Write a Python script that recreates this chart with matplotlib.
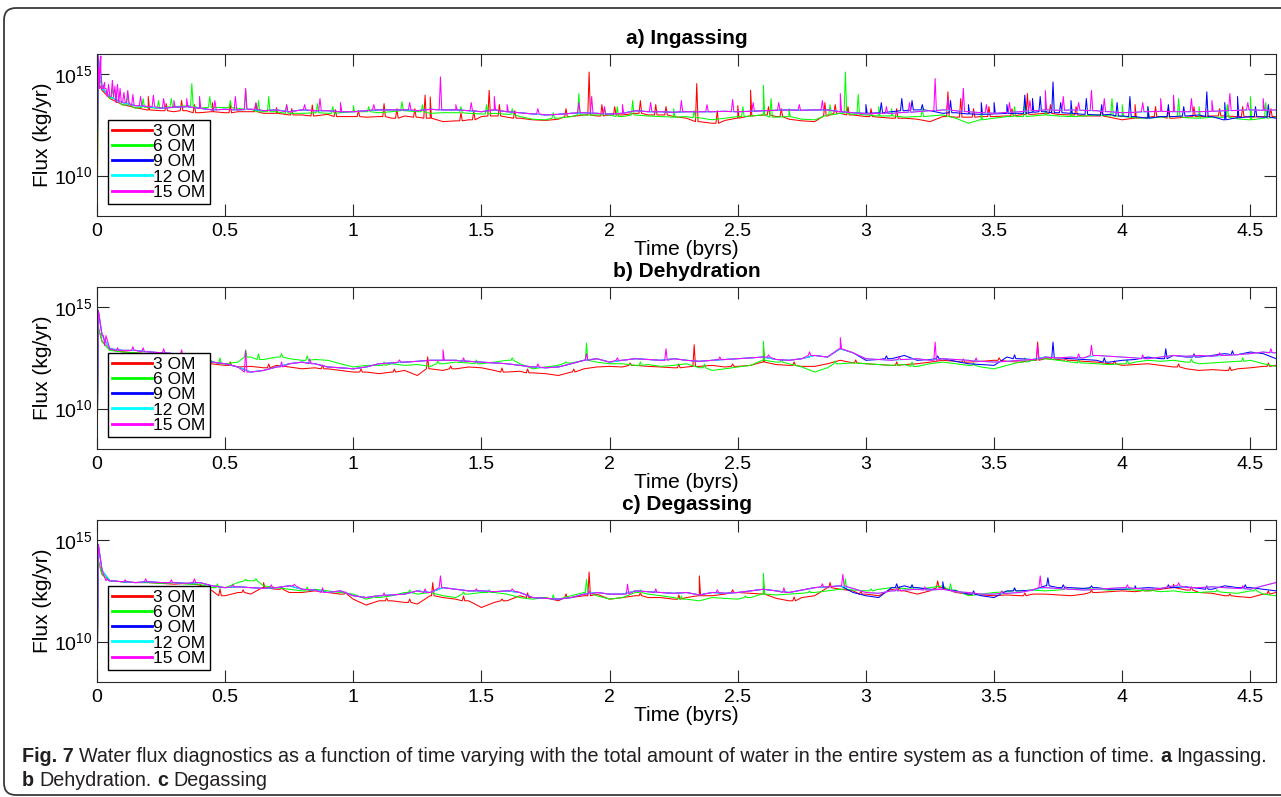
import matplotlib
matplotlib.use('Agg')
import matplotlib.pyplot as plt
import numpy as np
from matplotlib.patches import FancyBboxPatch
from matplotlib.transforms import IdentityTransform
from matplotlib.ticker import NullLocator

plt.rcParams['font.family'] = ['Liberation Sans', 'DejaVu Sans']
plt.rcParams['mathtext.fontset'] = 'custom'
plt.rcParams['mathtext.rm'] = 'Liberation Sans'

# time grid (byrs)
time = [0.0, 0.005, 0.02,
        0.05, 0.1, 0.15, 0.2, 0.25, 0.3, 0.35, 0.4, 0.45, 0.5,
        0.55, 0.6, 0.65, 0.7, 0.75, 0.8, 0.85, 0.9, 0.95, 1.0,
        1.05, 1.1, 1.15, 1.2, 1.25, 1.3, 1.35, 1.4, 1.45, 1.5,
        1.55, 1.6, 1.65, 1.7, 1.75, 1.8, 1.85, 1.9, 1.95, 2.0,
        2.05, 2.1, 2.15, 2.2, 2.25, 2.3, 2.35, 2.4, 2.45, 2.5,
        2.55, 2.6, 2.65, 2.7, 2.75, 2.8, 2.85, 2.9, 2.95, 3.0,
        3.05, 3.1, 3.15, 3.2, 3.25, 3.3, 3.35, 3.4, 3.45, 3.5,
        3.55, 3.6, 3.65, 3.7, 3.75, 3.8, 3.85, 3.9, 3.95, 4.0,
        4.05, 4.1, 4.15, 4.2, 4.25, 4.3, 4.35, 4.4, 4.45, 4.5,
        4.55, 4.6]

# ---- a) Ingassing, log10(flux in kg/yr)
ing_15 = [9.5, 15.9, 14.3,
          13.9, 13.6, 13.45, 13.40, 13.32, 13.37, 13.40, 13.32, 13.24, 13.27,
          13.24, 13.27, 13.20, 13.24, 13.15, 13.24, 13.20, 13.20, 13.15, 13.15,
          13.20, 13.24, 13.24, 13.24, 13.20, 13.27, 13.24, 13.24, 13.20, 13.15,
          13.24, 13.15, 13.10, 13.04, 12.99, 13.02, 13.07, 13.10, 13.07, 13.04,
          13.07, 13.20, 13.15, 13.15, 13.12, 13.15, 13.15, 13.15, 13.17, 13.15,
          13.17, 13.20, 13.22, 13.24, 13.22, 13.24, 13.24, 13.15, 13.10, 13.04,
          13.07, 13.07, 13.12, 13.15, 13.20, 13.24, 13.20, 13.15, 13.10, 13.07,
          13.12, 13.15, 13.20, 13.24, 13.22, 13.24, 13.22, 13.20, 13.15, 13.10,
          13.12, 13.15, 13.17, 13.15, 13.15, 13.15, 13.17, 13.20, 13.22, 13.24,
          13.22, 13.24]
ing_6 = [7.0, 14.9, 14.4,
         13.8, 13.48, 13.32, 13.37, 13.32, 13.40, 13.44, 13.32, 13.37, 13.35,
         13.32, 13.27, 13.15, 13.15, 13.07, 13.07, 13.10, 13.07, 13.10, 13.15,
         13.15, 13.10, 13.15, 13.20, 13.15, 13.07, 13.10, 13.10, 13.07, 13.04,
         13.07, 13.02, 12.91, 12.78, 12.75, 12.83, 12.91, 12.99, 12.99, 12.99,
         12.91, 12.99, 12.94, 12.91, 12.88, 12.91, 12.85, 12.75, 12.83, 12.91,
         12.94, 12.99, 12.88, 12.91, 12.78, 12.75, 12.99, 13.07, 13.02, 12.99,
         12.94, 12.94, 12.88, 12.91, 12.94, 12.99, 12.83, 12.58, 12.75, 12.83,
         12.91, 12.91, 12.94, 12.99, 12.94, 12.91, 12.94, 12.99, 12.94, 12.91,
         12.85, 12.83, 12.88, 12.91, 12.85, 12.83, 12.88, 12.88, 12.80, 12.75,
         12.83, 12.88]
ing_3 = [7.0, 14.6, 14.2,
         13.8, 13.5, 13.35, 13.24, 13.20, 13.15, 13.20, 13.10, 13.15, 13.10,
         13.15, 13.15, 13.07, 13.07, 12.99, 12.99, 12.94, 13.02, 12.91, 12.91,
         12.88, 12.91, 12.83, 12.94, 12.88, 12.83, 12.66, 12.70, 12.75, 12.91,
         12.94, 12.88, 12.83, 12.75, 12.72, 12.78, 12.91, 12.99, 12.94, 12.99,
         12.99, 13.07, 12.99, 12.99, 12.91, 12.83, 12.66, 12.58, 12.72, 12.83,
         12.94, 12.99, 12.91, 12.78, 12.70, 12.66, 12.94, 13.07, 12.99, 12.91,
         12.88, 12.83, 12.83, 12.78, 12.66, 12.91, 12.88, 12.88, 12.91, 12.91,
         12.94, 12.99, 13.02, 13.07, 13.02, 12.99, 12.94, 12.94, 12.88, 12.75,
         12.83, 12.88, 12.91, 12.83, 12.88, 12.91, 12.94, 12.94, 12.91, 12.88,
         12.91, 12.91]
# 9 OM only separates from 15 OM after ~2.9 byrs
ing_9_late = [13.10, 13.07,
              13.10, 13.15, 13.20, 13.24, 13.20, 13.07, 13.10, 13.04, 13.02, 13.04,
              13.07, 13.07, 13.12, 13.15, 13.10, 13.07, 13.02, 12.99, 13.02, 12.94,
              12.91, 12.83, 12.91, 12.91, 12.94, 12.99, 12.91, 12.75, 12.85, 12.91,
              12.88, 12.83]
ing_spikes_3 = [(0.20, 13.9), (0.27, 13.55), (0.33, 13.7), (0.38, 13.5), (0.45, 13.6),
                (0.52, 13.5), (0.62, 13.55), (0.70, 13.35), (0.76, 13.3), (0.84, 13.48),
                (0.93, 13.25), (1.02, 13.2), (1.12, 13.55), (1.17, 13.3), (1.24, 13.3),
                (1.28, 13.97), (1.30, 13.88), (1.42, 13.1), (1.47, 13.2), (1.53, 14.21),
                (1.57, 13.5), (1.63, 13.2), (1.83, 13.3), (1.92, 15.11), (1.97, 13.5),
                (2.02, 13.4), (2.12, 13.7), (2.18, 13.5), (2.22, 13.4), (2.34, 14.54),
                (2.42, 13.2), (2.50, 13.45), (2.55, 14.21), (2.62, 13.4), (2.67, 13.3),
                (2.84, 13.6), (2.88, 13.5), (2.93, 13.4), (3.02, 13.3), (3.12, 13.3),
                (3.32, 14.13), (3.37, 13.8), (3.42, 13.3), (3.48, 13.4), (3.57, 13.3),
                (3.63, 14.05), (3.72, 13.5), (3.82, 13.4), (3.92, 13.3), (4.05, 13.5),
                (4.13, 13.4), (4.18, 13.3), (4.28, 13.4), (4.38, 13.3), (4.47, 13.4),
                (4.58, 13.3)]
ing_spikes_6 = [(0.06, 14.3), (0.12, 14.0), (0.18, 13.8), (0.24, 13.7), (0.29, 13.8),
                (0.37, 14.54), (0.44, 13.9), (0.52, 13.7), (0.58, 14.21), (0.63, 13.7),
                (0.67, 13.9), (0.74, 13.5), (0.86, 13.55), (0.92, 13.4), (1.00, 13.45),
                (1.06, 13.4), (1.19, 13.65), (1.27, 13.5), (1.42, 13.4), (1.52, 13.5),
                (1.62, 13.3), (1.78, 13.1), (1.88, 14.05), (1.98, 13.3), (2.03, 13.4),
                (2.09, 13.7), (2.25, 13.3), (2.33, 13.2), (2.52, 13.4), (2.60, 14.46),
                (2.63, 13.8), (2.70, 13.3), (2.86, 13.5), (2.92, 15.11), (2.97, 14.0),
                (3.05, 13.4), (3.10, 13.3), (3.22, 13.3), (3.45, 13.2), (3.58, 13.4),
                (3.62, 13.7), (3.70, 13.5), (3.80, 13.4), (3.96, 13.8), (4.00, 13.5),
                (4.10, 13.4), (4.22, 13.8), (4.30, 13.4), (4.41, 13.5), (4.50, 13.9),
                (4.56, 13.6)]
ing_spikes_15 = [(0.01, 14.9), (0.015, 15.2), (0.025, 14.4), (0.03, 14.6), (0.045, 14.5),
                 (0.06, 14.7), (0.07, 14.4), (0.08, 14.5), (0.09, 14.3), (0.105, 14.1),
                 (0.12, 14.2), (0.14, 14.0), (0.17, 13.9), (0.22, 13.97), (0.26, 13.8),
                 (0.30, 13.7), (0.35, 13.8), (0.40, 13.9), (0.46, 13.7), (0.54, 13.9),
                 (0.58, 14.30), (0.62, 13.6), (0.74, 13.5), (0.81, 13.5), (0.87, 13.8),
                 (0.95, 13.6), (1.08, 13.5), (1.22, 13.6), (1.34, 14.87), (1.40, 13.5),
                 (1.46, 13.6), (1.55, 13.9), (1.60, 13.5), (1.72, 13.3), (1.88, 13.6),
                 (1.93, 13.9), (1.98, 13.4), (2.05, 13.5), (2.16, 13.6), (2.28, 13.7),
                 (2.38, 13.5), (2.48, 13.75), (2.56, 13.6), (2.66, 13.6), (2.74, 13.5),
                 (2.83, 13.7), (2.90, 14.05), (3.08, 13.4), (3.17, 13.6), (3.27, 14.79),
                 (3.32, 13.8), (3.38, 14.3), (3.47, 13.5), (3.56, 13.6), (3.64, 13.7),
                 (3.70, 14.2), (3.77, 13.9), (3.83, 13.6), (3.88, 14.2), (3.93, 13.8),
                 (4.08, 13.6), (4.15, 13.8), (4.20, 13.97), (4.27, 13.8), (4.35, 13.7),
                 (4.42, 14.05), (4.49, 13.6), (4.55, 13.8)]
ing_spikes_9 = [(3.00, 13.5), (3.06, 13.6), (3.14, 13.8), (3.18, 13.7), (3.22, 13.5),
                (3.33, 13.7), (3.40, 13.5), (3.45, 13.6), (3.50, 13.6), (3.55, 13.5),
                (3.62, 13.97), (3.65, 13.8), (3.68, 13.9), (3.73, 14.62), (3.76, 13.6),
                (3.80, 13.7), (3.86, 13.8), (3.92, 13.5), (3.98, 13.6), (4.03, 13.9),
                (4.10, 13.4), (4.18, 13.5), (4.24, 13.4), (4.33, 14.13), (4.40, 13.6),
                (4.45, 13.9), (4.52, 13.4), (4.57, 13.5)]

# ---- b) Dehydration
deh_15 = [7.0, 14.85, 13.6,
          12.95, 12.87, 12.87, 12.80, 12.75, 12.71, 12.62, 12.54, 12.29, 12.21,
          12.05, 11.80, 11.88, 12.05, 12.21, 12.29, 12.21, 12.05, 12.01, 11.96,
          12.05, 12.21, 12.25, 12.29, 12.33, 12.38, 12.38, 12.38, 12.33, 12.29,
          12.25, 12.21, 12.13, 12.05, 12.01, 12.05, 12.21, 12.38, 12.46, 12.29,
          12.38, 12.46, 12.42, 12.38, 12.46, 12.38, 12.33, 12.38, 12.42, 12.46,
          12.50, 12.54, 12.42, 12.38, 12.46, 12.62, 12.54, 12.95, 12.75, 12.46,
          12.42, 12.38, 12.42, 12.46, 12.38, 12.46, 12.42, 12.38, 12.33, 12.29,
          12.33, 12.38, 12.42, 12.54, 12.50, 12.54, 12.50, 12.62, 12.58, 12.54,
          12.50, 12.46, 12.54, 12.62, 12.58, 12.62, 12.58, 12.62, 12.66, 12.71,
          12.79, 12.75]
deh_6 = [7.0, 14.0, 13.3,
         12.87, 12.79, 12.75, 12.71, 12.62, 12.62, 12.54, 12.71, 12.33, 12.21,
         12.29, 12.54, 12.42, 12.54, 12.46, 12.38, 12.42, 12.38, 12.21, 12.05,
         12.13, 12.13, 12.21, 12.13, 12.17, 12.08, 12.21, 12.29, 12.25, 12.21,
         12.29, 12.38, 12.21, 11.96, 12.05, 12.13, 12.25, 12.38, 12.29, 12.21,
         12.21, 12.13, 12.17, 12.08, 12.13, 12.21, 12.01, 11.88, 11.96, 12.05,
         12.13, 12.38, 12.29, 12.21, 12.05, 11.80, 12.01, 12.21, 12.25, 12.21,
         12.17, 12.13, 12.17, 12.08, 12.21, 12.29, 12.21, 12.13, 12.05, 11.96,
         12.13, 12.29, 12.38, 12.46, 12.38, 12.29, 12.25, 12.21, 12.17, 12.21,
         12.29, 12.38, 12.33, 12.38, 12.29, 12.21, 12.25, 12.29, 12.33, 12.38,
         12.21, 12.08]
deh_3 = [7.0, 14.0, 13.3,
         12.9, 12.8, 12.75, 12.7, 12.6, 12.55, 12.5, 12.4, 12.2, 12.13,
         12.05, 12.08, 12.01, 12.13, 12.05, 11.96, 12.01, 11.96, 11.88, 11.80,
         11.80, 11.72, 11.80, 11.88, 11.63, 11.96, 11.88, 11.96, 12.05, 12.01,
         11.88, 11.80, 11.84, 11.76, 11.72, 11.63, 11.80, 11.96, 12.05, 12.08,
         12.05, 12.13, 12.08, 12.05, 12.01, 12.05, 12.08, 12.13, 12.05, 12.08,
         12.13, 12.29, 12.17, 12.13, 12.08, 12.08, 12.21, 12.38, 12.25, 12.21,
         12.17, 12.13, 12.17, 12.21, 12.29, 12.38, 12.33, 12.29, 12.33, 12.38,
         12.33, 12.29, 12.38, 12.46, 12.42, 12.38, 12.33, 12.29, 12.21, 12.13,
         12.17, 12.21, 12.13, 12.05, 11.96, 11.88, 11.92, 11.88, 11.96, 12.01,
         12.08, 12.13]
deh_9_late = [12.75, 12.38,
              12.42, 12.46, 12.62, 12.38, 12.42, 12.46, 12.33, 12.21, 12.17, 12.13,
              12.54, 12.46, 12.42, 12.54, 12.50, 12.46, 12.42, 12.38, 12.29, 12.38,
              12.42, 12.54, 12.46, 12.62, 12.54, 12.54, 12.62, 12.71, 12.66, 12.79,
              12.71, 12.46]
deh_spikes_3 = [(0.52, 12.3), (0.67, 12.2), (0.88, 12.15), (1.03, 11.95), (1.16, 11.95),
                (1.29, 12.55), (1.38, 12.1), (1.58, 12.0), (1.68, 11.95), (1.86, 11.95),
                (2.08, 12.25), (2.27, 12.2), (2.33, 13.15), (2.48, 12.2), (2.60, 13.00),
                (2.72, 12.3), (2.96, 12.4), (3.12, 12.3), (3.38, 12.45), (3.52, 12.5),
                (3.67, 13.28), (3.78, 12.5), (3.97, 12.35), (4.22, 12.2), (4.42, 12.05),
                (4.57, 12.25)]
deh_spikes_6 = [(0.48, 12.5), (0.58, 12.9), (0.63, 12.7), (0.72, 12.7), (0.82, 12.6),
                (1.12, 12.3), (1.33, 12.35), (1.48, 12.4), (1.62, 12.5), (1.83, 12.3),
                (1.91, 13.23), (2.12, 12.3), (2.37, 12.2), (2.60, 13.32), (2.67, 12.4),
                (2.88, 12.35), (3.18, 12.3), (3.42, 12.25), (3.62, 12.5), (3.83, 12.4),
                (4.02, 12.4), (4.27, 12.45), (4.47, 12.5)]
deh_spikes_15 = [(0.03, 13.1), (0.08, 13.0), (0.14, 13.05), (0.18, 13.0), (0.26, 12.95),
                 (0.33, 12.9), (0.58, 12.85), (0.72, 12.3), (0.83, 12.45), (1.18, 12.4),
                 (1.35, 12.9), (1.43, 12.5), (1.72, 12.2), (1.91, 12.71), (2.03, 12.5),
                 (2.22, 12.95), (2.43, 12.55), (2.62, 12.65), (2.78, 12.8), (2.90, 13.50),
                 (3.13, 12.55), (3.27, 13.28), (3.43, 12.5), (3.67, 13.12), (3.83, 12.7),
                 (3.88, 13.12), (4.08, 12.65), (4.38, 12.75), (4.58, 12.95)]
deh_spikes_9 = [(3.08, 12.6), (3.28, 12.6), (3.58, 12.65), (3.73, 13.28), (3.93, 12.5),
                (4.17, 12.95), (4.28, 12.7), (4.43, 12.85)]

# ---- c) Degassing
deg_15 = [7.0, 14.8, 13.5,
          13.0, 12.95, 12.91, 12.95, 12.91, 12.91, 12.87, 12.91, 12.75, 12.66,
          12.70, 12.66, 12.62, 12.66, 12.75, 12.58, 12.54, 12.42, 12.50, 12.26,
          12.17, 12.26, 12.30, 12.34, 12.50, 12.42, 12.66, 12.58, 12.50, 12.50,
          12.46, 12.50, 12.42, 12.17, 12.13, 12.09, 12.17, 12.34, 12.42, 12.34,
          12.34, 12.50, 12.46, 12.42, 12.38, 12.42, 12.30, 12.42, 12.38, 12.42,
          12.50, 12.58, 12.50, 12.42, 12.54, 12.66, 12.70, 12.75, 12.62, 12.42,
          12.38, 12.50, 12.54, 12.58, 12.54, 12.58, 12.46, 12.42, 12.34, 12.34,
          12.38, 12.42, 12.54, 12.66, 12.62, 12.58, 12.54, 12.58, 12.62, 12.66,
          12.62, 12.58, 12.62, 12.75, 12.66, 12.66, 12.70, 12.66, 12.62, 12.58,
          12.75, 12.91]
deg_6 = [7.0, 14.0, 13.3,
         12.99, 12.95, 12.91, 12.91, 12.87, 12.91, 12.83, 12.83, 12.66, 12.66,
         12.91, 13.00, 12.75, 12.66, 12.58, 12.50, 12.58, 12.50, 12.42, 12.34,
         12.09, 12.17, 12.26, 12.42, 12.34, 12.42, 12.26, 12.17, 12.34, 12.42,
         12.42, 12.34, 12.17, 12.09, 12.17, 12.09, 12.26, 12.42, 12.26, 12.09,
         12.17, 12.42, 12.34, 12.26, 12.17, 12.09, 12.01, 12.17, 12.13, 12.09,
         12.17, 12.34, 12.30, 12.34, 12.38, 12.42, 12.50, 12.58, 12.54, 12.50,
         12.58, 12.66, 12.62, 12.58, 12.66, 12.75, 12.54, 12.26, 12.34, 12.42,
         12.46, 12.50, 12.54, 12.50, 12.54, 12.58, 12.62, 12.58, 12.54, 12.58,
         12.54, 12.50, 12.46, 12.50, 12.42, 12.42, 12.46, 12.42, 12.38, 12.50,
         12.34, 12.26]
deg_3 = [7.0, 14.0, 13.3,
         13.0, 12.95, 12.91, 12.91, 12.87, 12.83, 12.87, 12.79, 12.50, 12.26,
         12.42, 12.34, 12.66, 12.58, 12.42, 12.42, 12.50, 12.42, 12.34, 12.09,
         11.80, 12.01, 12.01, 11.93, 11.85, 12.26, 12.17, 12.09, 12.01, 11.68,
         11.93, 12.01, 12.26, 12.17, 12.17, 12.01, 12.17, 12.26, 12.34, 12.09,
         12.17, 12.26, 12.17, 12.17, 12.09, 12.17, 12.26, 12.26, 12.34, 12.42,
         12.38, 12.34, 12.13, 12.01, 12.17, 12.26, 12.66, 12.58, 12.50, 12.34,
         12.26, 12.58, 12.50, 12.34, 12.50, 12.66, 12.42, 12.34, 12.30, 12.26,
         12.30, 12.26, 12.34, 12.34, 12.30, 12.26, 12.34, 12.42, 12.46, 12.50,
         12.46, 12.50, 12.58, 12.66, 12.54, 12.42, 12.38, 12.26, 12.22, 12.17,
         12.34, 12.42]
deg_9_late = [12.42, 12.26,
              12.17, 12.66, 12.75, 12.66, 12.58, 12.58, 12.50, 12.34, 12.26, 12.17,
              12.50, 12.50, 12.54, 12.75, 12.66, 12.66, 12.62, 12.66, 12.58, 12.58,
              12.62, 12.66, 12.62, 12.66, 12.70, 12.62, 12.58, 12.75, 12.66, 12.66,
              12.58, 12.50]
deg_spikes_3 = [(0.48, 12.6), (0.57, 12.55), (0.65, 12.91), (0.72, 12.7), (0.97, 12.45),
                (1.13, 12.15), (1.22, 12.1), (1.31, 12.91), (1.43, 12.25), (1.58, 12.1),
                (1.68, 12.4), (1.83, 12.35), (1.92, 13.43), (2.12, 12.4), (2.27, 12.3),
                (2.35, 13.24), (2.48, 12.55), (2.60, 12.91), (2.72, 12.2), (2.86, 12.91),
                (2.98, 12.5), (3.13, 12.7), (3.28, 12.99), (3.42, 12.45), (3.62, 12.4),
                (3.88, 12.55), (4.08, 12.6), (4.20, 12.83), (4.27, 12.7), (4.42, 12.35),
                (4.57, 12.5)]
deg_spikes_6 = [(0.47, 12.85), (0.58, 13.07), (0.62, 13.1), (0.82, 12.7), (1.08, 12.25),
                (1.22, 12.55), (1.43, 12.45), (1.53, 12.55), (1.78, 12.3), (1.91, 13.07),
                (2.12, 12.55), (2.28, 12.25), (2.53, 12.25), (2.60, 13.37), (2.78, 12.5),
                (2.92, 13.10), (3.02, 12.6), (3.18, 12.75), (3.33, 12.85), (3.58, 12.6),
                (3.78, 12.7), (4.12, 12.6), (4.37, 12.55), (4.52, 12.6)]
deg_spikes_15 = [(0.04, 13.1), (0.11, 13.05), (0.19, 13.1), (0.29, 13.05), (0.38, 13.1),
                 (0.53, 12.8), (0.68, 12.8), (0.77, 12.83), (0.88, 12.65), (1.12, 12.4),
                 (1.28, 12.6), (1.34, 13.24), (1.48, 12.6), (1.62, 12.6), (1.92, 12.5),
                 (2.07, 12.83), (2.18, 12.6), (2.42, 12.55), (2.68, 12.65), (2.83, 12.85),
                 (2.91, 13.32), (3.12, 12.65), (3.23, 12.7), (3.53, 12.5), (3.68, 13.24),
                 (3.78, 12.7), (4.02, 12.8), (4.22, 12.9), (4.47, 12.75)]
deg_spikes_9 = [(3.12, 12.85), (3.18, 12.8), (3.30, 12.95), (3.42, 12.5), (3.58, 12.65),
                (3.71, 13.15), (3.77, 12.8), (3.88, 12.75), (4.05, 12.75), (4.18, 12.8),
                (4.33, 12.75), (4.48, 12.8)]

labels = ['3 OM', '6 OM', '9 OM', '12 OM', '15 OM']
colors = ['#ff0000', '#00ff00', '#0000ff', '#00ffff', '#ff00ff']
titles = ['a) Ingassing', 'b) Dehydration', 'c) Degassing']
xticks = [0, 0.5, 1, 1.5, 2, 2.5, 3, 3.5, 4, 4.5]
xtick_labels = ['0', '0.5', '1', '1.5', '2', '2.5', '3', '3.5', '4', '4.5']

panels = [
    (ing_3, ing_6, ing_9_late, ing_15,
     [ing_spikes_3, ing_spikes_6, ing_spikes_9, [], ing_spikes_15]),
    (deh_3, deh_6, deh_9_late, deh_15,
     [deh_spikes_3, deh_spikes_6, deh_spikes_9, [], deh_spikes_15]),
    (deg_3, deg_6, deg_9_late, deg_15,
     [deg_spikes_3, deg_spikes_6, deg_spikes_9, [], deg_spikes_15]),
]


def with_spikes(t, v, spikes, w=0.005):
    t = np.asarray(t, dtype=float)
    v = np.asarray(v, dtype=float)
    ts, vs = list(t), list(v)
    for s, peak in spikes:
        base = v[np.argmin(np.abs(t - s))]
        ts += [s - w, s, s + w]
        vs += [base, peak, base]
    order = np.argsort(ts, kind='stable')
    return np.array(ts)[order], np.array(vs)[order]


W, H = 1281, 797
fig = plt.figure(figsize=(W / 100, H / 100), dpi=100)

# axes boxes in pixels: (top, bottom)
boxes = [(54, 216), (287, 449), (520, 682)]
left_px, right_px = 97, 1276

for (top, bot), title, (s3, s6, s9_late, s15, spikes) in zip(boxes, titles, panels):
    ax = fig.add_axes([left_px / W, 1 - bot / H, (right_px - left_px) / W, (bot - top) / H])
    n_early = len(time) - len(s9_late)
    s9 = list(s15[:n_early]) + list(s9_late)
    series = [s3, s6, s9, s15, s15]
    for vals, sp, lab, col in zip(series, spikes, labels, colors):
        t, v = with_spikes(time, vals, sp)
        ax.plot(t, 10.0 ** v, color=col, lw=0.75, label=lab)

    ax.set_yscale('log')
    ax.set_xlim(0, 4.6)
    ax.set_ylim(1e8, 1e16)
    ax.set_xticks(xticks)
    ax.set_xticklabels(xtick_labels)
    ax.set_yticks([1e10, 1e15])
    ax.set_yticklabels([r'$\mathregular{10^{10}}$', r'$\mathregular{10^{15}}$'])
    ax.yaxis.set_minor_locator(NullLocator())
    ax.tick_params(direction='in', length=8.5, width=0.8, color='#262626',
                   labelsize=14, top=True, right=True)
    ax.tick_params(axis='x', pad=5)
    ax.tick_params(axis='y', pad=3)
    for sp_ in ax.spines.values():
        sp_.set_color('#262626')
        sp_.set_linewidth(0.8)

    ax.set_title(title, fontweight='bold', fontsize=15, pad=7)
    ax.set_xlabel('Time (byrs)', fontsize=15, labelpad=0)
    ax.set_ylabel('Flux (kg/yr)', fontsize=15, labelpad=2)

    leg = ax.legend(loc='lower left', bbox_to_anchor=(11 / 1179, 12 / 162),
                    borderaxespad=0, fontsize=12.5, handlelength=2.3,
                    handletextpad=0.05, labelspacing=0.0, borderpad=0.25,
                    fancybox=False, edgecolor='black', framealpha=1)
    leg.get_frame().set_linewidth(1.0)
    for line in leg.get_lines():
        line.set_linewidth(2.0)

# outer rounded frame
frame = FancyBboxPatch((4, 2), 1320, 787, boxstyle='round,pad=0,rounding_size=12',
                       transform=IdentityTransform(), fill=False,
                       edgecolor='#3a3a3a', linewidth=1.3)
fig.add_artist(frame)

# caption with bold run markers
cap_family = ['Liberation Sans']
cap_color = '#231f20'
line1 = [('Fig. 7', True),
         ('Water flux diagnostics as a function of time varying with the total amount of '
          'water in the entire system as a function of time.', False),
         ('a', True), ('Ingassing.', False)]
line2 = [('b', True), ('Dehydration.', False), ('c', True), ('Degassing', False)]

renderer = fig.canvas.get_renderer()


def lay_runs(runs, x0, y, fs):
    arts = []
    probe1 = fig.text(0, 0, 'a a', fontsize=fs, family=cap_family)
    probe2 = fig.text(0, 0, 'aa', fontsize=fs, family=cap_family)
    space = probe1.get_window_extent(renderer).width - probe2.get_window_extent(renderer).width
    probe1.remove()
    probe2.remove()
    x = x0
    for s, bold in runs:
        txt = fig.text(x / W, y, s, fontsize=fs, family=cap_family, color=cap_color,
                       fontweight='bold' if bold else 'normal', ha='left', va='center')
        x += txt.get_window_extent(renderer).width + space
        arts.append(txt)
    return x - space - x0, arts


width0, arts = lay_runs(line1, 22, 1 - 756 / H, 10)
for a in arts:
    a.remove()
cap_fs = 10 * (1268 - 22) / width0
lay_runs(line1, 22, 1 - 756 / H, cap_fs)
lay_runs(line2, 22, 1 - 781 / H, cap_fs)

fig.savefig('out.png', dpi=100)
